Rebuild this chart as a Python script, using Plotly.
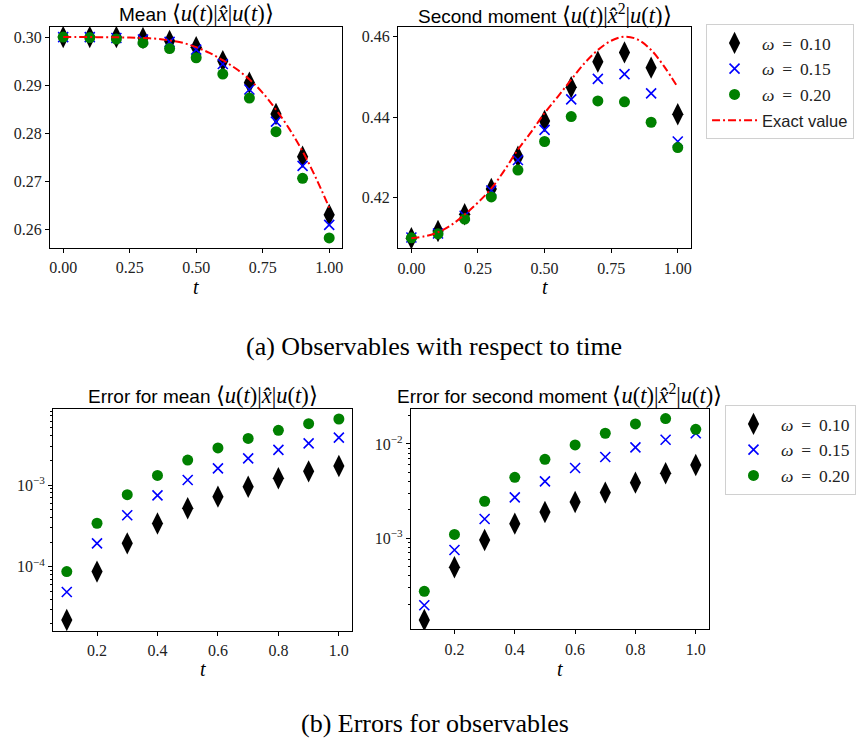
import plotly.graph_objects as go

# ---------------- data ----------------
t_obs = [0.0, 0.1, 0.2, 0.3, 0.4, 0.5, 0.6, 0.7, 0.8, 0.9, 1.0]
t_err = [0.1, 0.2, 0.3, 0.4, 0.5, 0.6, 0.7, 0.8, 0.9, 1.0]
t_exact = [0.0, 0.05, 0.1, 0.15, 0.2, 0.25, 0.3, 0.35, 0.4, 0.45, 0.5,
           0.55, 0.6, 0.65, 0.7, 0.75, 0.8, 0.85, 0.9, 0.95, 1.0]

omega_labels = ["0.10", "0.15", "0.20"]

mean_w010 = [0.3000, 0.3000, 0.3000, 0.2998, 0.2992, 0.2979, 0.2950, 0.2905, 0.2840, 0.2751, 0.2630]
mean_w015 = [0.3000, 0.3000, 0.2998, 0.2995, 0.2990, 0.2974, 0.2944, 0.2891, 0.2824, 0.2732, 0.2609]
mean_w020 = [0.3000, 0.2999, 0.2996, 0.2988, 0.2976, 0.2957, 0.2923, 0.2873, 0.2803, 0.2706, 0.2582]
mean_exact = [0.3000, 0.3000, 0.3000, 0.29998, 0.29995, 0.2999, 0.2998, 0.29965, 0.2993, 0.2988,
              0.2979, 0.2967, 0.2952, 0.2934, 0.2912, 0.2884, 0.2849, 0.2809, 0.2762, 0.2707, 0.2645]

sec_w010 = [0.4098, 0.4116, 0.4158, 0.4221, 0.4301, 0.4390, 0.4474, 0.4538, 0.4561, 0.4523, 0.4407]
sec_w015 = [0.4100, 0.4110, 0.4154, 0.4217, 0.4293, 0.4368, 0.4444, 0.4495, 0.4507, 0.4459, 0.4339]
sec_w020 = [0.4099, 0.4109, 0.4146, 0.4201, 0.4268, 0.4339, 0.4401, 0.4440, 0.4438, 0.4387, 0.4324]
sec_exact = [0.4098, 0.4103, 0.4113, 0.4131, 0.4157, 0.4187, 0.4222, 0.4268, 0.4319, 0.4363, 0.4410,
             0.4451, 0.4493, 0.4534, 0.4567, 0.4590, 0.4600, 0.4593, 0.4567, 0.4525, 0.4474]

err_mean_w010 = [2.22e-5, 8.7e-5, 1.93e-4, 3.37e-4, 5.18e-4, 7.2e-4, 9.5e-4, 1.21e-3, 1.47e-3, 1.71e-3]
err_mean_w015 = [4.9e-5, 1.93e-4, 4.26e-4, 7.47e-4, 1.15e-3, 1.60e-3, 2.12e-3, 2.69e-3, 3.24e-3, 3.80e-3]
err_mean_w020 = [8.7e-5, 3.4e-4, 7.6e-4, 1.31e-3, 2.02e-3, 2.84e-3, 3.72e-3, 4.67e-3, 5.63e-3, 6.43e-3]

err_sec_w010 = [1.36e-4, 4.93e-4, 9.6e-4, 1.43e-3, 1.90e-3, 2.43e-3, 3.05e-3, 3.89e-3, 4.89e-3, 5.98e-3]
err_sec_w015 = [1.95e-4, 7.52e-4, 1.60e-3, 2.72e-3, 4.02e-3, 5.57e-3, 7.28e-3, 9.22e-3, 1.11e-2, 1.30e-2]
err_sec_w020 = [2.74e-4, 1.10e-3, 2.47e-3, 4.43e-3, 6.88e-3, 9.76e-3, 1.30e-2, 1.63e-2, 1.86e-2, 1.43e-2]

top_xticks = [0.0, 0.25, 0.5, 0.75, 1.0]
top_xtext = ["0.00", "0.25", "0.50", "0.75", "1.00"]
mean_yticks = [0.26, 0.27, 0.28, 0.29, 0.30]
sec_yticks = [0.42, 0.44, 0.46]
bot_xticks = [0.2, 0.4, 0.6, 0.8, 1.0]
bot_xtext = ["0.2", "0.4", "0.6", "0.8", "1.0"]

# ---------------- style ----------------
W, H = 856, 743
SERIF = "Liberation Serif"
SANS = "Liberation Sans"
styles = [
    dict(symbol="diamond-tall", color="black", size=16, line=dict(width=0)),
    dict(symbol="x-thin-open", color="blue", size=10, line=dict(width=1.6, color="blue")),
    dict(symbol="circle", color="green", size=11, line=dict(width=0)),
]

def px_dom(a, b, total, flip=False):
    if flip:
        return [1 - b / total, 1 - a / total]
    return [a / total, b / total]

fig = go.Figure()

def omega_name(v):
    return f"<i>ω</i>\u2009 = \u2009{v}"

panels = [
    ("x", "y", t_obs, [mean_w010, mean_w015, mean_w020], "legend", True),
    ("x2", "y2", t_obs, [sec_w010, sec_w015, sec_w020], "legend", False),
    ("x3", "y3", t_err, [err_mean_w010, err_mean_w015, err_mean_w020], "legend2", False),
    ("x4", "y4", t_err, [err_sec_w010, err_sec_w015, err_sec_w020], "legend2", True),
]

for xa, ya, tx, series, leg, show in panels:
    for lab, ys, st in zip(omega_labels, series, styles):
        fig.add_trace(go.Scatter(
            x=tx, y=ys, mode="markers", xaxis=xa, yaxis=ya,
            name=omega_name(lab), legend=leg, showlegend=show,
            marker=dict(symbol=st["symbol"], color=st["color"], size=st["size"], line=st["line"]),
        ))
    if ya in ("y", "y2"):
        fig.add_trace(go.Scatter(
            x=t_exact, y=mean_exact if ya == "y" else sec_exact, mode="lines",
            xaxis=xa, yaxis=ya, name=f'<span style="font-family:{SANS};font-size:16.5px">Exact value</span>',
            legend="legend", showlegend=(ya == "y2"),
            line=dict(color="red", width=2, dash="8px,3px,2px,3px", shape="spline"),
        ))

axis_common = dict(showline=True, linecolor="black", linewidth=1, mirror=True,
                   ticks="outside", ticklen=4, tickcolor="black", showgrid=False,
                   zeroline=False, tickfont=dict(family=SERIF, size=16, color="#222"))

minor_left = [m * 10 ** e for e in (-5, -4, -3) for m in range(2, 10)]
minor_right = [m * 10 ** e for e in (-4, -3, -2) for m in range(2, 10)]

fig.update_layout(
    width=W, height=H, margin=dict(l=0, r=0, t=0, b=0),
    paper_bgcolor="white", plot_bgcolor="white",
    xaxis=dict(domain=px_dom(50, 343.3, W), range=[-0.05, 1.05], anchor="y",
               tickvals=top_xticks, ticktext=top_xtext, ticklabelstandoff=1, **axis_common),
    yaxis=dict(domain=px_dom(27, 248, H, True), range=[0.2561, 0.3021], anchor="x",
               tickvals=mean_yticks, ticktext=[f"{v:.2f}" for v in mean_yticks], **axis_common),
    xaxis2=dict(domain=px_dom(399, 692.7, W), range=[-0.05, 1.05], anchor="y2",
                tickvals=top_xticks, ticktext=top_xtext, ticklabelstandoff=1, **axis_common),
    yaxis2=dict(domain=px_dom(26.7, 248.3, H, True), range=[0.4073, 0.4625], anchor="x2",
                tickvals=sec_yticks, ticktext=[f"{v:.2f}" for v in sec_yticks], **axis_common),
    xaxis3=dict(domain=px_dom(53.3, 353.3, W), range=[0.055, 1.045], anchor="y3",
                tickvals=bot_xticks, ticktext=bot_xtext, ticklabelstandoff=1, **axis_common),
    yaxis3=dict(domain=px_dom(409.3, 631, H, True), type="log", range=[-4.788, -2.073], anchor="x3",
                tickvals=[1e-4, 1e-3], ticktext=["10<sup>−4</sup>", "10<sup>−3</sup>"],
                minor=dict(tickvals=minor_left, ticks="outside", ticklen=2, tickcolor="black", showgrid=False),
                **axis_common),
    xaxis4=dict(domain=px_dom(411.7, 711, W), range=[0.055, 1.045], anchor="y4",
                tickvals=bot_xticks, ticktext=bot_xtext, ticklabelstandoff=1, **axis_common),
    yaxis4=dict(domain=px_dom(409, 629.3, H, True), type="log", range=[-3.965, -1.629], anchor="x4",
                tickvals=[1e-3, 1e-2], ticktext=["10<sup>−3</sup>", "10<sup>−2</sup>"],
                minor=dict(tickvals=minor_right, ticks="outside", ticklen=2, tickcolor="black", showgrid=False),
                **axis_common),
    legend=dict(x=707.7 / W, y=1 - 24 / H, xanchor="left", yanchor="top", itemwidth=45,
                bgcolor="white", bordercolor="#d0d0d0", borderwidth=1,
                font=dict(family=SERIF, size=17.5, color="#222"), tracegroupgap=0),
    legend2=dict(x=726.7 / W, y=1 - 405 / H, xanchor="left", yanchor="top", itemwidth=45,
                 bgcolor="white", bordercolor="#d0d0d0", borderwidth=1,
                 font=dict(family=SERIF, size=17.5, color="#222"), tracegroupgap=0),
)

def math_expr(sq=False):
    xh = "<i>x\u0302</i>" + ("<sup>2</sup>" if sq else "")
    return (f'<span style="font-family:{SERIF};font-size:22.5px">⟨<i>u</i>(<i>t</i>)|{xh}|<i>u</i>(<i>t</i>)⟩</span>')

titles = [
    ("Mean ", False, 196.7, 14),
    ("Second moment ", True, 545.8, 14),
    ("Error for mean ", False, 203.3, 395),
    ("Error for second moment ", True, 561.3, 394),
]
for txt, sq, cx, cy in titles:
    fig.add_annotation(x=cx / W, y=1 - cy / H, xref="paper", yref="paper",
                       text=txt + math_expr(sq), showarrow=False,
                       xanchor="center", yanchor="middle",
                       font=dict(family=SANS, size=19, color="black"))

for cx, cy in [(196.7, 287), (545.8, 287), (203.3, 669), (561.3, 669)]:
    fig.add_annotation(x=cx / W, y=1 - cy / H, xref="paper", yref="paper",
                       text="<i>t</i>", showarrow=False, xanchor="center", yanchor="middle",
                       font=dict(family=SERIF, size=20, color="black"))

fig.add_annotation(x=435.5 / W, y=1 - 346 / H, xref="paper", yref="paper",
                   text="(a) Observables with respect to time", showarrow=False,
                   xanchor="center", yanchor="middle",
                   font=dict(family=SERIF, size=26, color="black"))
fig.add_annotation(x=436.5 / W, y=1 - 723 / H, xref="paper", yref="paper",
                   text="(b) Errors for observables", showarrow=False,
                   xanchor="center", yanchor="middle",
                   font=dict(family=SERIF, size=26, color="black"))

fig.write_html("out.html", config={"displayModeBar": False},
               post_script="document.body.style.margin='0px';")
